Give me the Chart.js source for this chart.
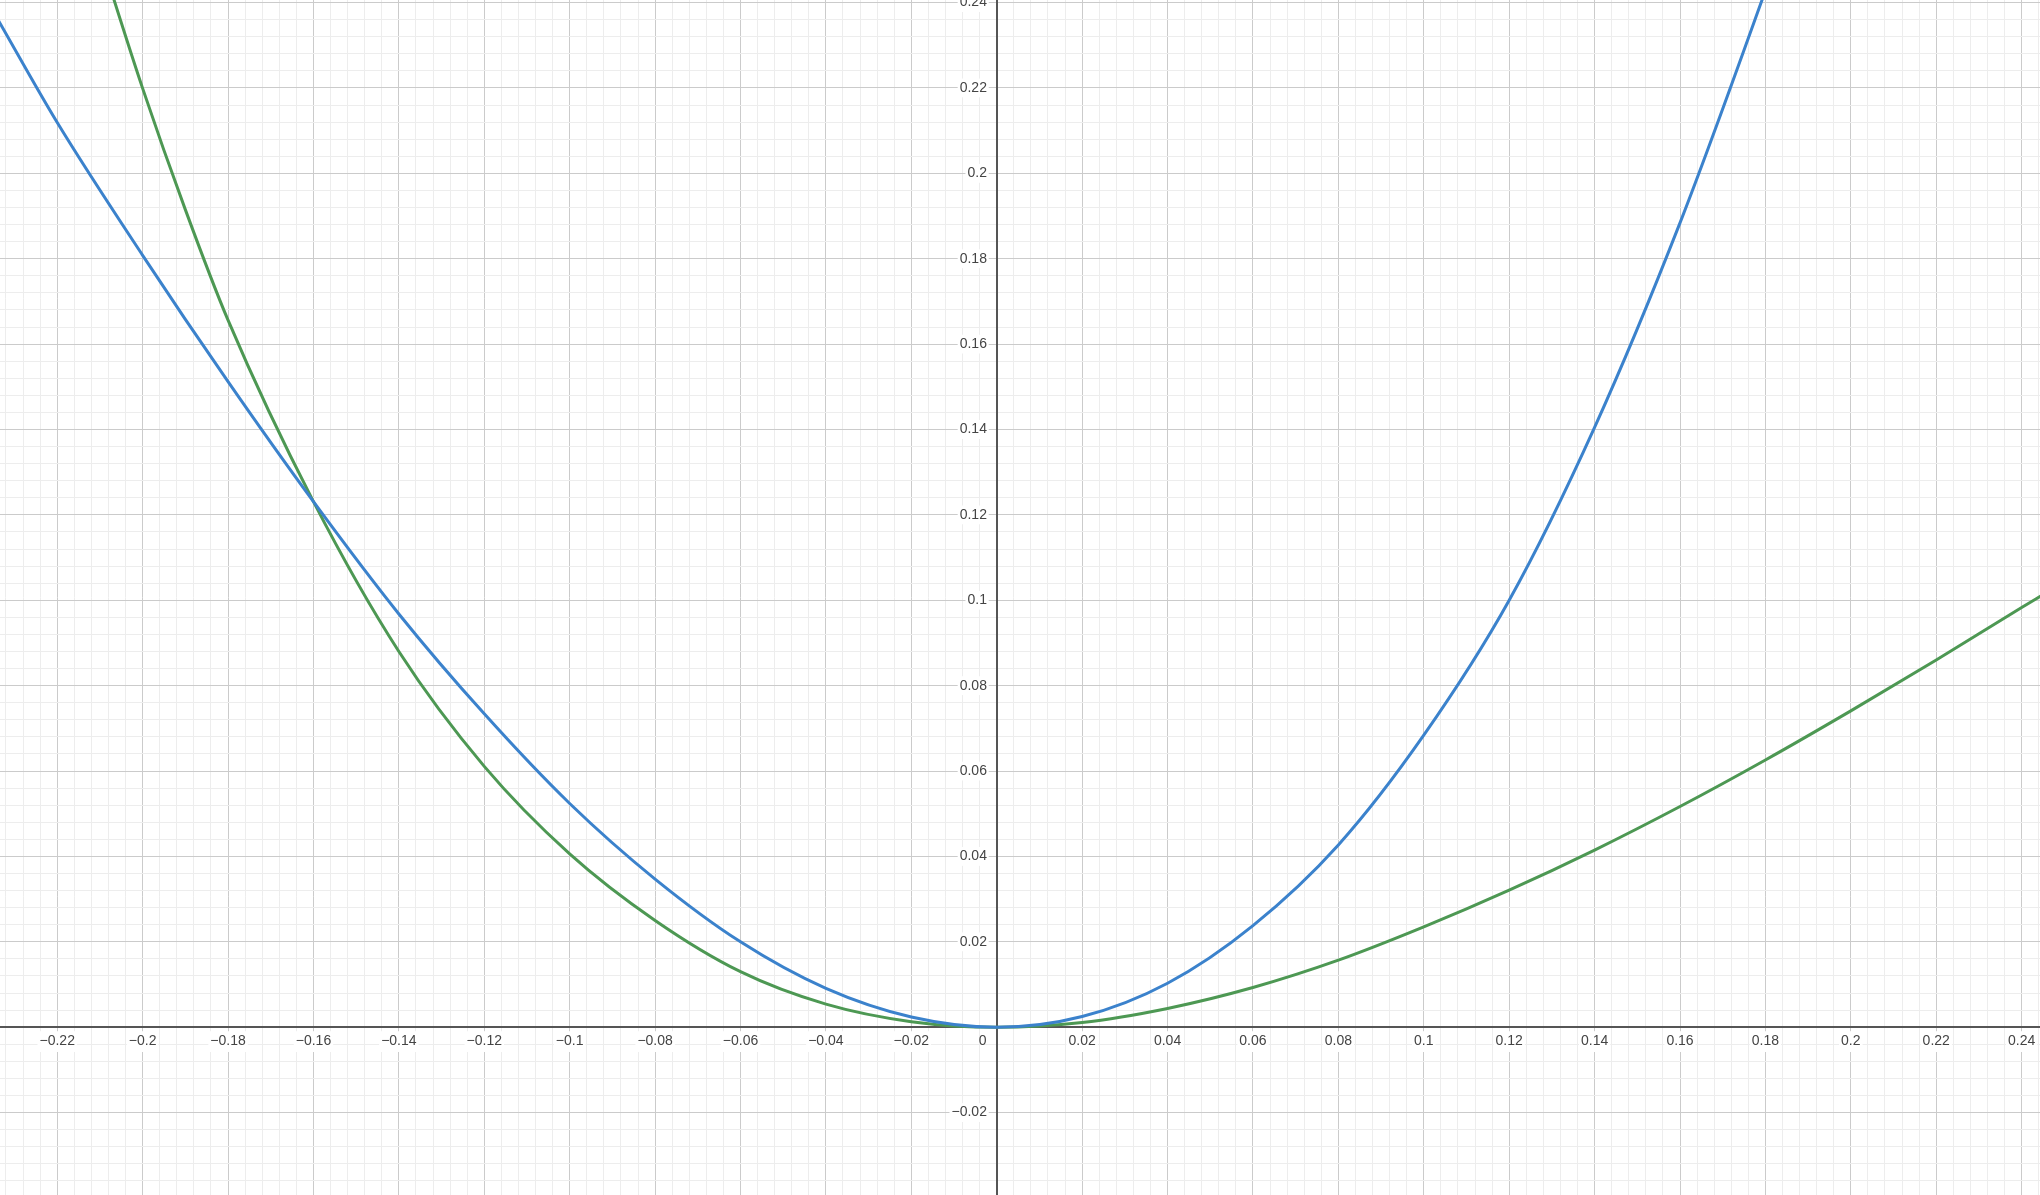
<!DOCTYPE html>
<html>
<head>
<meta charset="utf-8">
<script src="https://cdn.jsdelivr.net/npm/chart.js@4"></script>
<style>
  html, body { margin: 0; padding: 0; background: #fff; overflow: hidden; }
  canvas { display: block; }
</style>
</head>
<body>
<canvas id="graph" width="2040" height="1195"></canvas>
<script>
// visible window of the graph
const xMin = -0.2334, xMax = 0.2443;
const yMin = -0.0393, yMax = 0.2406;
const majorStep = 0.02, minorStep = 0.004;

// blue curve
const blueX = [-0.234, -0.22, -0.20, -0.18, -0.16, -0.14, -0.12, -0.10, -0.08, -0.06, -0.04, -0.02, 0,
  0.02, 0.04, 0.06, 0.08, 0.10, 0.12, 0.14, 0.16, 0.18, 0.185];
const blueY = [0.2362, 0.2119, 0.1808, 0.1512, 0.1231, 0.0968, 0.0734, 0.0524, 0.0347, 0.0200, 0.0091, 0.0024, 0,
  0.0025, 0.0103, 0.0238, 0.0427, 0.0684, 0.1000, 0.1405, 0.1884, 0.2428, 0.2570];

// green curve
const greenX = [-0.21, -0.20, -0.19, -0.18, -0.16, -0.14, -0.12, -0.10, -0.08, -0.06, -0.04, -0.02, 0,
  0.02, 0.04, 0.06, 0.08, 0.10, 0.12, 0.14, 0.16, 0.18, 0.20, 0.22, 0.24, 0.245];
const greenY = [0.2510, 0.2199, 0.1915, 0.1656, 0.1231, 0.0880, 0.0611, 0.0406, 0.0250, 0.0130, 0.0054, 0.0013, 0,
  0.0011, 0.0044, 0.0093, 0.0157, 0.0235, 0.0321, 0.0415, 0.0517, 0.0626, 0.0741, 0.0860, 0.0983, 0.1013];

const fontFamily = "'Liberation Sans', Arial, sans-serif";

function toPoints(xs, ys) {
  return xs.map((x, i) => ({ x: x, y: ys[i] }));
}

function isMajor(v) {
  const r = v / majorStep;
  return Math.abs(r - Math.round(r)) < 1e-6;
}

function formatLabel(v) {
  const s = String(parseFloat(Math.abs(v).toFixed(3)));
  return (v < 0 ? '\u2212' : '') + s;
}

function gridColor(ctx) {
  const v = ctx.tick ? ctx.tick.value : 0;
  return isMajor(v) ? '#cbcbcb' : '#ededed';
}

function backdrop(ctx) {
  const v = ctx.tick ? ctx.tick.value : 0;
  return isMajor(v) && Math.abs(v) > 1e-9 ? '#ffffff' : 'rgba(255,255,255,0)';
}

// no extra room for the edge labels, the graph fills the whole canvas
function noPadding(scale) {
  scale.paddingLeft = 0;
  scale.paddingRight = 0;
  scale.paddingTop = 0;
  scale.paddingBottom = 0;
}

const ctx = document.getElementById('graph').getContext('2d');

const graph = new Chart(ctx, {
  type: 'line',
  data: {
    datasets: [{
      label: 'bleu',
      data: toPoints(blueX, blueY),
      borderColor: '#3b82cc',
      borderWidth: 3,
      pointRadius: 0,
      cubicInterpolationMode: 'monotone',
      fill: false
    }, {
      label: 'vert',
      data: toPoints(greenX, greenY),
      borderColor: '#4d9853',
      borderWidth: 3,
      pointRadius: 0,
      cubicInterpolationMode: 'monotone',
      fill: false
    }]
  },
  options: {
    responsive: false,
    animation: false,
    devicePixelRatio: 1,
    layout: { padding: 0 },
    plugins: {
      legend: { display: false },
      tooltip: { enabled: false }
    },
    scales: {
      x: {
        type: 'linear',
        position: { y: 0 },
        min: xMin,
        max: xMax,
        afterFit: noPadding,
        grid: { color: gridColor, lineWidth: 1, drawTicks: false },
        border: { display: true, color: '#555555', width: 2 },
        ticks: {
          stepSize: minorStep,
          autoSkip: false,
          includeBounds: false,
          maxRotation: 0,
          padding: 6,
          color: '#444444',
          font: { family: fontFamily, size: 14 },
          showLabelBackdrop: true,
          backdropColor: backdrop,
          backdropPadding: 2,
          callback: function (value) {
            if (!isMajor(value)) return '';
            if (Math.abs(value) < 1e-9) return '0\u2003\u2003';
            return formatLabel(value);
          }
        }
      },
      y: {
        type: 'linear',
        position: { x: 0 },
        min: yMin,
        max: yMax,
        afterFit: noPadding,
        grid: { color: gridColor, lineWidth: 1, drawTicks: false },
        border: { display: true, color: '#555555', width: 2 },
        ticks: {
          stepSize: minorStep,
          autoSkip: false,
          includeBounds: false,
          color: '#444444',
          font: { family: fontFamily, size: 14 },
          showLabelBackdrop: true,
          backdropColor: backdrop,
          backdropPadding: { top: 1, bottom: 1, left: 2, right: -8 },
          callback: function (value) {
            if (!isMajor(value) || Math.abs(value) < 1e-9) return '';
            // trailing space keeps the label off the axis line
            return formatLabel(value) + '\u2002\u2009';
          }
        }
      }
    }
  }
});
</script>
</body>
</html>
